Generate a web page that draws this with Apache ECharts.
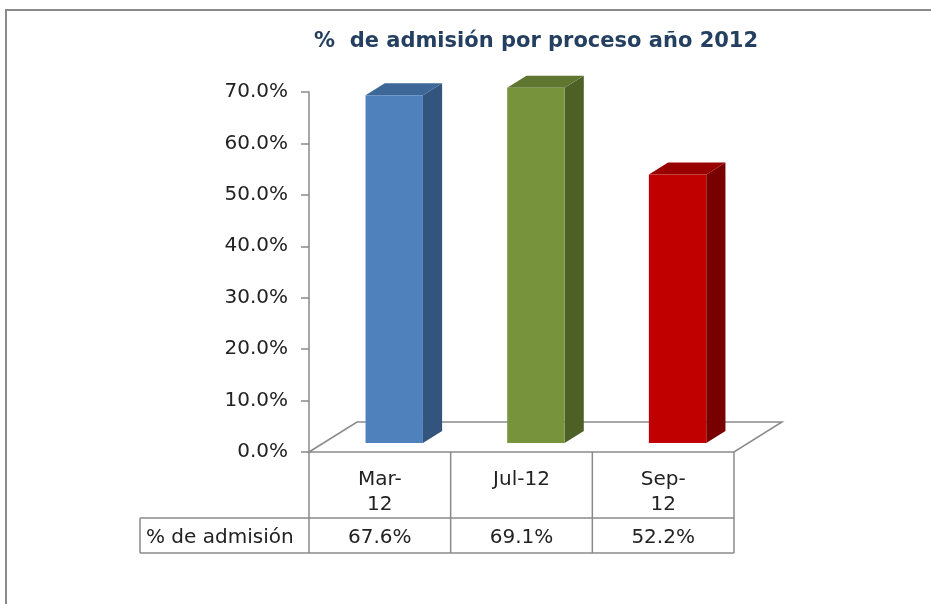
<!DOCTYPE html>
<html>
<head>
<meta charset="utf-8">
<script src="https://cdn.jsdelivr.net/npm/echarts@6/dist/echarts.min.js"></script>
<style>
  html, body { margin: 0; padding: 0; background: #fff; }
  #chart { width: 931px; height: 604px; }
</style>
</head>
<body>
<div id="chart"></div>
<script>
// data
const categories = ['Mar-12', 'Jul-12', 'Sep-12'];
const headerLabels = ['Mar-\n12', 'Jul-12', 'Sep-\n12'];
const admision = [67.6, 69.1, 52.2];
const rowName = '% de admisión';
const titleText = '%  de admisión por proceso año 2012';

// look
const frontColors = ['#4F81BD', '#77933C', '#C00000'];
const sideColors = ['#32547D', '#4D6127', '#780000'];
const topColors = ['#3D6797', '#5E762F', '#980000'];
const FONT = 'DejaVu Sans';
const LINE = '#8a8a8a';
const DEPTH = [48, -30]; // how far the floor goes back

const chart = echarts.init(document.getElementById('chart'));

function renderBar(params, api) {
  const i = api.value(0);
  const v = api.value(1);
  const base = api.coord([i, 0]);
  const top = api.coord([i, v]);
  const band = api.size([1, 0])[0];
  const w = band * 0.405;
  const ox = DEPTH[0] * 0.3, oy = DEPTH[1] * 0.3;
  const sx = DEPTH[0] * 0.4, sy = DEPTH[1] * 0.4;
  const x0 = base[0] + ox - w / 2, x1 = x0 + w;
  const yb = base[1] + oy, yt = top[1] + oy;
  return {
    type: 'group',
    children: [
      { type: 'polygon', shape: { points: [[x1, yt], [x1 + sx, yt + sy], [x1 + sx, yb + sy], [x1, yb]] }, style: { fill: sideColors[i] } },
      { type: 'polygon', shape: { points: [[x0, yt], [x0 + sx, yt + sy], [x1 + sx, yt + sy], [x1, yt]] }, style: { fill: topColors[i] } },
      { type: 'rect', shape: { x: x0, y: yt, width: w, height: yb - yt }, style: { fill: frontColors[i] } }
    ]
  };
}

const option = {
  backgroundColor: '#fff',
  animation: false,
  title: {
    text: titleText,
    left: 309,
    top: 26,
    textStyle: { fontFamily: FONT, fontSize: 21, fontWeight: 'bold', color: '#243F60' }
  },
  grid: { left: 309, right: 197, top: 92, bottom: 152 },
  xAxis: {
    type: 'category',
    data: categories,
    axisLine: { show: false },
    axisTick: { show: false },
    axisLabel: {
      margin: 15,
      fontFamily: FONT,
      fontSize: 20,
      lineHeight: 25,
      color: '#222',
      formatter: (v, i) => headerLabels[i]
    }
  },
  yAxis: {
    type: 'value',
    min: 0,
    max: 70,
    interval: 10,
    axisLine: { show: true, lineStyle: { color: LINE, width: 1.5 } },
    axisTick: { show: true, length: 8, lineStyle: { color: LINE, width: 1.5 } },
    splitLine: { show: false },
    axisLabel: {
      margin: 21,
      fontFamily: FONT,
      fontSize: 20,
      color: '#222',
      formatter: v => v.toFixed(1) + '%'
    }
  },
  series: [{
    type: 'custom',
    name: rowName,
    renderItem: renderBar,
    encode: { x: 0, y: 1 },
    data: admision.map((v, i) => [i, v]),
    z: 10
  }]
};
chart.setOption(option);

// floor, frame and data table, placed from the axes
const c0 = chart.convertToPixel({ xAxisIndex: 0 }, 0);
const c1 = chart.convertToPixel({ xAxisIndex: 0 }, 1);
const band = c1 - c0;
const left = c0 - band / 2;
const right = left + band * categories.length;
const y0 = chart.convertToPixel({ yAxisIndex: 0 }, 0);
const rowTop = y0 + 66;
const rowBottom = y0 + 101;
const rowMid = (rowTop + rowBottom) / 2 + 2;
const labelLeft = 140;

const graphics = [
  { type: 'rect', shape: { x: 6, y: 10, width: 1000, height: 800 }, style: { fill: 'none', stroke: LINE, lineWidth: 2 }, z: 0 },
  {
    type: 'polygon', z: 1,
    shape: { points: [[left, y0], [left + DEPTH[0], y0 + DEPTH[1]], [right + DEPTH[0], y0 + DEPTH[1]], [right, y0]] },
    style: { fill: '#fff', stroke: LINE, lineWidth: 1.5 }
  },
  { type: 'line', shape: { x1: labelLeft, y1: rowTop, x2: right, y2: rowTop }, style: { stroke: LINE, lineWidth: 1.5 } },
  { type: 'line', shape: { x1: labelLeft, y1: rowBottom, x2: right, y2: rowBottom }, style: { stroke: LINE, lineWidth: 1.5 } },
  { type: 'line', shape: { x1: labelLeft, y1: rowTop, x2: labelLeft, y2: rowBottom }, style: { stroke: LINE, lineWidth: 1.5 } },
  {
    type: 'text', x: labelLeft + 6, y: rowMid,
    style: { text: rowName, fontFamily: FONT, fontSize: 20, fill: '#222', align: 'left', verticalAlign: 'middle' }
  }
];
for (let k = 0; k <= categories.length; k++) {
  const x = left + band * k;
  graphics.push({ type: 'line', shape: { x1: x, y1: y0, x2: x, y2: rowBottom }, style: { stroke: LINE, lineWidth: 1.5 } });
}
admision.forEach((v, i) => {
  graphics.push({
    type: 'text',
    x: chart.convertToPixel({ xAxisIndex: 0 }, i),
    y: rowMid,
    style: { text: v.toFixed(1) + '%', fontFamily: FONT, fontSize: 20, fill: '#222', align: 'center', verticalAlign: 'middle' }
  });
});
chart.setOption({ graphic: graphics });
</script>
</body>
</html>
